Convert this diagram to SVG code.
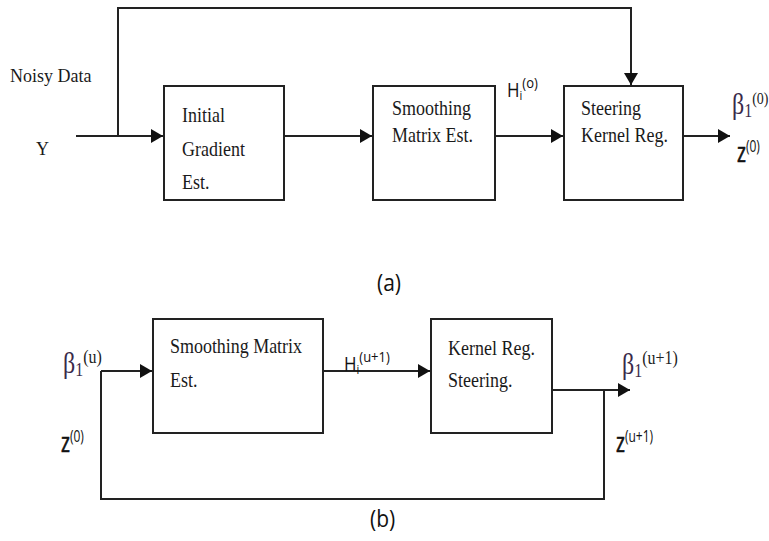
<svg xmlns="http://www.w3.org/2000/svg" width="769" height="541" viewBox="0 0 769 541">
<style>
.box{fill:#fff;stroke:#222;stroke-width:2}
.ln{fill:none;stroke:#222;stroke-width:2}
.t{font-family:"Liberation Serif",serif;font-size:18px;fill:#1a1a1a}
.s{font-family:"Open Sans","Liberation Sans",sans-serif;fill:#111}
.z{font-family:"Open Sans","Liberation Sans",sans-serif;font-size:19px;fill:#111;stroke:#111;stroke-width:0.5}
.zs{font-size:12px;stroke-width:0}
.b{font-family:"Liberation Serif",serif;font-size:24px;fill:#3a2a4a}
.b1{font-size:16px}
.bs{font-size:16px;fill:#222}
</style>
<defs>
<marker id="ah" markerUnits="userSpaceOnUse" markerWidth="13" markerHeight="14" refX="12" refY="7" orient="auto">
<path d="M0,0 L12,7 L0,14 z" fill="#111"/>
</marker>
</defs>
<rect width="769" height="541" fill="#fff"/>
<g id="connectors">
<path class="ln" d="M76,136 H163" marker-end="url(#ah)"/>
<path class="ln" d="M118,136 V8 H631 V85" marker-end="url(#ah)"/>
<path class="ln" d="M284,136 H372" marker-end="url(#ah)"/>
<path class="ln" d="M495,136 H563" marker-end="url(#ah)"/>
<path class="ln" d="M683,136 H730" marker-end="url(#ah)"/>
<path class="ln" d="M101,371 H152" marker-end="url(#ah)"/>
<path class="ln" d="M323,371 H430" marker-end="url(#ah)"/>
<path class="ln" d="M552,390 H630" marker-end="url(#ah)"/>
<path class="ln" d="M604,390 V499 H101 V371"/>
</g>
<g id="input">
<text class="t" transform="translate(10,82) scale(1,1.1)">Noisy Data</text>
<text class="t" transform="translate(36,155) scale(1,1.1)">Y</text>
</g>
<g id="initial-gradient">
<rect class="box" x="164" y="86" width="120" height="114"/>
<text class="t" transform="translate(182,122) scale(1,1.12)">Initial</text>
<text class="t" transform="translate(182,156) scale(1,1.12)">Gradient</text>
<text class="t" transform="translate(182,189) scale(1,1.12)">Est.</text>
</g>
<g id="smoothing-a">
<rect class="box" x="373" y="86" width="122" height="114"/>
<text class="t" transform="translate(392,115) scale(1,1.12)">Smoothing</text>
<text class="t" transform="translate(392,142) scale(1,1.12)">Matrix Est.</text>
</g>
<g id="label-h0">
<text class="s" transform="translate(507,97) scale(1,1.15)" style="font-size:17px">H<tspan dy="3" style="font-size:11px">i</tspan><tspan dy="-11" style="font-size:13px">(o)</tspan></text>
</g>
<g id="steering-a">
<rect class="box" x="564" y="86" width="119" height="114"/>
<text class="t" transform="translate(581,115) scale(1,1.12)">Steering</text>
<text class="t" transform="translate(581,142) scale(1,1.12)">Kernel Reg.</text>
</g>
<g id="output-a">
<text class="b" transform="translate(732,114) scale(1,1.2)">β<tspan class="b1" dy="2.5">1</tspan><tspan class="bs" style="font-size:14px" dy="-11">(0)</tspan></text>
<text class="z" transform="translate(737,162) scale(1,1.4)">z<tspan class="zs" dy="-7">(0)</tspan></text>
</g>
<text class="s" transform="translate(377,291) scale(1,1.1)" style="font-size:21px">(a)</text>
<g id="input-b">
<text class="b" transform="translate(63,373) scale(1,1.2)">β<tspan class="b1" dy="2.5">1</tspan><tspan class="bs" dy="-11">(u)</tspan></text>
<text class="z" transform="translate(61,452) scale(1,1.4)">z<tspan class="zs" dy="-7">(0)</tspan></text>
</g>
<g id="smoothing-b">
<rect class="box" x="153" y="319" width="170" height="114"/>
<text class="t" transform="translate(170,353) scale(1,1.12)" textLength="132">Smoothing Matrix</text>
<text class="t" transform="translate(170,387) scale(1,1.12)">Est.</text>
</g>
<g id="label-hu">
<text class="s" transform="translate(344,371) scale(1,1.15)" style="font-size:17px">H<tspan dy="3" style="font-size:11px">i</tspan><tspan dy="-11" style="font-size:13px">(u+1)</tspan></text>
</g>
<g id="kernel-b">
<rect class="box" x="431" y="319" width="121" height="114"/>
<text class="t" transform="translate(448,355) scale(1,1.12)">Kernel Reg.</text>
<text class="t" transform="translate(448,387) scale(1,1.12)">Steering.</text>
</g>
<g id="output-b">
<text class="b" transform="translate(622,374) scale(1,1.2)">β<tspan class="b1" dy="2.5">1</tspan><tspan class="bs" dy="-11">(u+1)</tspan></text>
<text class="z" transform="translate(616,452) scale(1,1.4)">z<tspan class="zs" dy="-7">(u+1)</tspan></text>
</g>
<text class="s" transform="translate(370,527) scale(1,1.1)" style="font-size:21px">(b)</text>
</svg>
